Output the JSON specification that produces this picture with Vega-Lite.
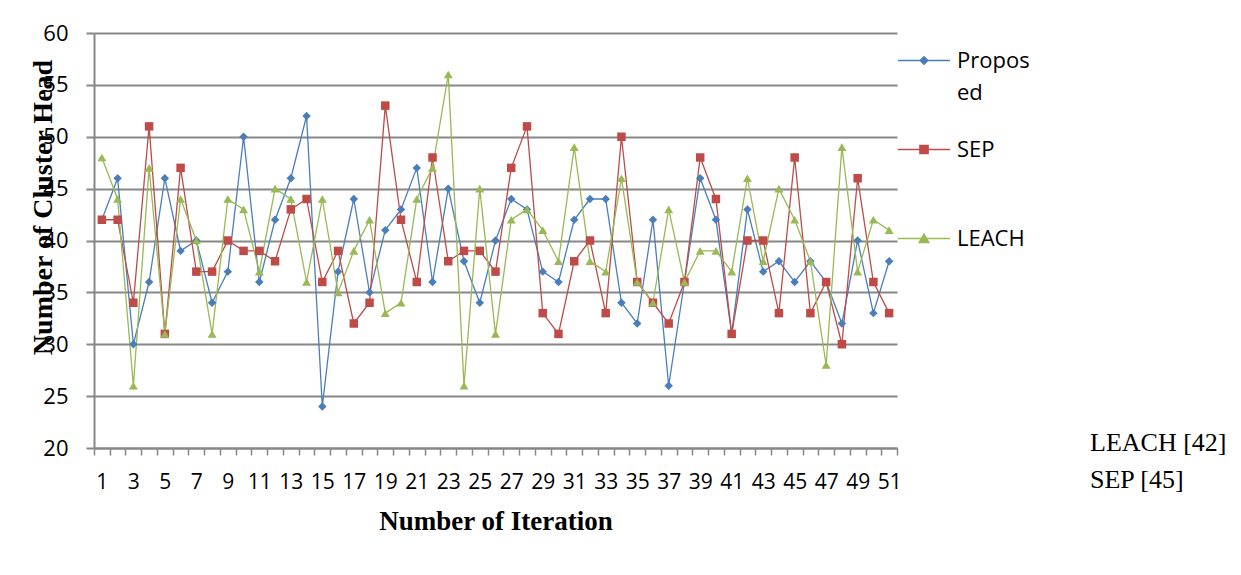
{
  "$schema": "https://vega.github.io/schema/vega-lite/v6.json",
  "width": 803,
  "height": 415,
  "autosize": "none",
  "padding": {"left": 94, "top": 33, "right": 344, "bottom": 127},
  "background": "white",
  "config": {"view": {"stroke": null}},
  "title": {
    "text": ["LEACH [42]", "SEP [45]"],
    "orient": "bottom",
    "anchor": "start",
    "frame": "group",
    "align": "left",
    "baseline": "top",
    "dx": 996,
    "dy": -104,
    "offset": 0,
    "font": "Liberation Serif",
    "fontSize": 26,
    "fontWeight": "normal",
    "lineHeight": 37,
    "color": "black"
  },
  "data": {
    "values": [
      {"i":1,"Proposed":42,"SEP":42,"LEACH":48},
      {"i":2,"Proposed":46,"SEP":42,"LEACH":44},
      {"i":3,"Proposed":30,"SEP":34,"LEACH":26},
      {"i":4,"Proposed":36,"SEP":51,"LEACH":47},
      {"i":5,"Proposed":46,"SEP":31,"LEACH":31},
      {"i":6,"Proposed":39,"SEP":47,"LEACH":44},
      {"i":7,"Proposed":40,"SEP":37,"LEACH":40},
      {"i":8,"Proposed":34,"SEP":37,"LEACH":31},
      {"i":9,"Proposed":37,"SEP":40,"LEACH":44},
      {"i":10,"Proposed":50,"SEP":39,"LEACH":43},
      {"i":11,"Proposed":36,"SEP":39,"LEACH":37},
      {"i":12,"Proposed":42,"SEP":38,"LEACH":45},
      {"i":13,"Proposed":46,"SEP":43,"LEACH":44},
      {"i":14,"Proposed":52,"SEP":44,"LEACH":36},
      {"i":15,"Proposed":24,"SEP":36,"LEACH":44},
      {"i":16,"Proposed":37,"SEP":39,"LEACH":35},
      {"i":17,"Proposed":44,"SEP":32,"LEACH":39},
      {"i":18,"Proposed":35,"SEP":34,"LEACH":42},
      {"i":19,"Proposed":41,"SEP":53,"LEACH":33},
      {"i":20,"Proposed":43,"SEP":42,"LEACH":34},
      {"i":21,"Proposed":47,"SEP":36,"LEACH":44},
      {"i":22,"Proposed":36,"SEP":48,"LEACH":47},
      {"i":23,"Proposed":45,"SEP":38,"LEACH":56},
      {"i":24,"Proposed":38,"SEP":39,"LEACH":26},
      {"i":25,"Proposed":34,"SEP":39,"LEACH":45},
      {"i":26,"Proposed":40,"SEP":37,"LEACH":31},
      {"i":27,"Proposed":44,"SEP":47,"LEACH":42},
      {"i":28,"Proposed":43,"SEP":51,"LEACH":43},
      {"i":29,"Proposed":37,"SEP":33,"LEACH":41},
      {"i":30,"Proposed":36,"SEP":31,"LEACH":38},
      {"i":31,"Proposed":42,"SEP":38,"LEACH":49},
      {"i":32,"Proposed":44,"SEP":40,"LEACH":38},
      {"i":33,"Proposed":44,"SEP":33,"LEACH":37},
      {"i":34,"Proposed":34,"SEP":50,"LEACH":46},
      {"i":35,"Proposed":32,"SEP":36,"LEACH":36},
      {"i":36,"Proposed":42,"SEP":34,"LEACH":34},
      {"i":37,"Proposed":26,"SEP":32,"LEACH":43},
      {"i":38,"Proposed":36,"SEP":36,"LEACH":36},
      {"i":39,"Proposed":46,"SEP":48,"LEACH":39},
      {"i":40,"Proposed":42,"SEP":44,"LEACH":39},
      {"i":41,"Proposed":31,"SEP":31,"LEACH":37},
      {"i":42,"Proposed":43,"SEP":40,"LEACH":46},
      {"i":43,"Proposed":37,"SEP":40,"LEACH":38},
      {"i":44,"Proposed":38,"SEP":33,"LEACH":45},
      {"i":45,"Proposed":36,"SEP":48,"LEACH":42},
      {"i":46,"Proposed":38,"SEP":33,"LEACH":38},
      {"i":47,"Proposed":36,"SEP":36,"LEACH":28},
      {"i":48,"Proposed":32,"SEP":30,"LEACH":49},
      {"i":49,"Proposed":40,"SEP":46,"LEACH":37},
      {"i":50,"Proposed":33,"SEP":36,"LEACH":42},
      {"i":51,"Proposed":38,"SEP":33,"LEACH":41}
    ]
  },
  "transform": [
    {"fold": ["Proposed", "SEP", "LEACH"], "as": ["series", "value"]}
  ],
  "encoding": {
    "x": {
      "field": "i",
      "type": "ordinal",
      "scale": {"type": "band", "paddingInner": 0, "paddingOuter": 0},
      "axis": {
        "title": "Number of Iteration",
        "titleFont": "Liberation Serif",
        "titleFontSize": 27,
        "titleFontWeight": "bold",
        "titleColor": "black",
        "titlePadding": 16,
        "labelAngle": 0,
        "labelFont": "Open Sans",
        "labelFontSize": 21,
        "labelColor": "black",
        "labelPadding": 16,
        "labelOverlap": false,
        "labelExpr": "datum.value % 2 === 1 ? datum.label : ''",
        "tickBand": "extent",
        "tickSize": 7,
        "tickColor": "#878787",
        "tickWidth": 1.5,
        "domainColor": "#878787",
        "domainWidth": 2,
        "grid": false
      }
    },
    "y": {
      "field": "value",
      "type": "quantitative",
      "scale": {"domain": [20, 60], "nice": false, "zero": false},
      "axis": {
        "values": [20, 25, 30, 35, 40, 45, 50, 55, 60],
        "title": "Number of Cluster Head",
        "titleFont": "Liberation Serif",
        "titleFontSize": 28,
        "titleFontWeight": "bold",
        "titleColor": "black",
        "titleX": -51,
        "titleY": 174,
        "titleAngle": 270,
        "titleAlign": "center",
        "titleBaseline": "middle",
        "labelFont": "Open Sans",
        "labelFontSize": 22,
        "labelColor": "black",
        "labelPadding": 18,
        "tickSize": 8,
        "tickColor": "#878787",
        "tickWidth": 2,
        "domainColor": "#878787",
        "domainWidth": 2,
        "grid": true,
        "gridColor": "#878787",
        "gridWidth": 2.2
      }
    }
  },
  "layer": [
    {
      "mark": {"type": "line", "strokeWidth": 1.3},
      "encoding": {
        "color": {
          "field": "series",
          "type": "nominal",
          "sort": ["Proposed", "SEP", "LEACH"],
          "scale": {"domain": ["Proposed", "SEP", "LEACH"], "range": ["#4A7EBB", "#BE4B48", "#98B954"]},
          "legend": {
            "title": null,
            "orient": "none",
            "legendX": 803,
            "legendY": 0.5,
            "direction": "vertical",
            "symbolSize": 2704,
            "symbolStrokeWidth": 1.3,
            "labelFont": "Open Sans",
            "labelFontSize": 22,
            "labelColor": "black",
            "labelOffset": 6,
            "labelLimit": 300,
            "labelBaseline": "top",
            "rowPadding": 19,
            "labelExpr": "datum.label === 'Proposed' ? ['Propos', 'ed'] : [datum.label, '']",
            "encode": {
              "symbols": {
                "update": {
                  "shape": {"signal": "datum.value === 'Proposed' ? 'M-1,0H1M-0.15,0L0,-0.15L0.15,0L0,0.15Z' : datum.value === 'SEP' ? 'M-1,0H1M-0.16,-0.16H0.16V0.16H-0.16Z' : 'M-1,0H1M-0.19,0.16L0,-0.17L0.19,0.16Z'"},
                  "fill": {"signal": "scale('color', datum.value)"},
                  "stroke": {"signal": "scale('color', datum.value)"},
                  "strokeWidth": {"value": 1.3},
                  "opacity": {"value": 1}
                }
              },
              "labels": {
                "update": {
                  "dy": {"value": -10},
                  "lineHeight": {"value": 32}
                }
              }
            }
          }
        }
      }
    },
    {
      "transform": [{"filter": "datum.series === 'Proposed'"}],
      "mark": {"type": "point", "filled": true, "opacity": 1, "size": 72, "shape": "diamond", "color": "#4A7EBB"}
    },
    {
      "transform": [{"filter": "datum.series === 'SEP'"}],
      "mark": {"type": "point", "filled": true, "opacity": 1, "size": 72, "shape": "square", "color": "#BE4B48"}
    },
    {
      "transform": [{"filter": "datum.series === 'LEACH'"}],
      "mark": {"type": "point", "filled": true, "opacity": 1, "size": 80, "shape": "triangle-up", "color": "#98B954"}
    }
  ]
}
